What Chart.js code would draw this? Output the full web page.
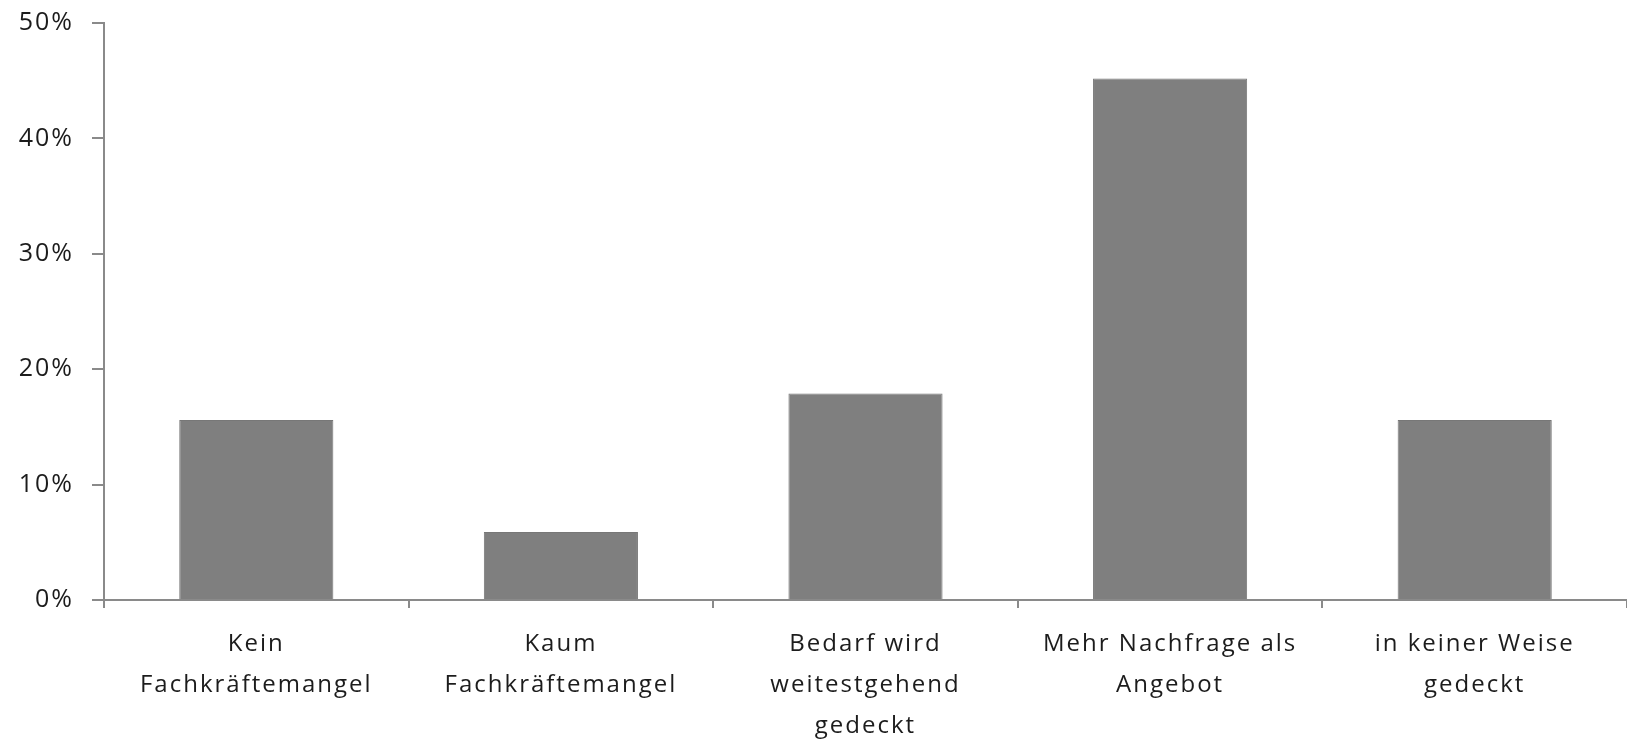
<!DOCTYPE html>
<html>
<head>
<meta charset="utf-8">
<script src="https://cdn.jsdelivr.net/npm/chart.js@4/dist/chart.umd.min.js"></script>
<style>
  html, body { margin: 0; padding: 0; background: #fff; }
  #wrap { width: 1627px; height: 739px; }
</style>
</head>
<body>
<div id="wrap"><canvas id="chart" width="1627" height="739"></canvas></div>
<script>
// Categories (multi-line labels)
const categories = [
  ["Kein", "Fachkräftemangel"],
  ["Kaum", "Fachkräftemangel"],
  ["Bedarf wird", "weitestgehend", "gedeckt"],
  ["Mehr Nachfrage als", "Angebot"],
  ["in keiner Weise", "gedeckt"]
];
// Share of responses in percent
const shares = [15.6, 5.9, 17.9, 45.2, 15.6];
// Y axis ticks
const yTicks = [0, 10, 20, 30, 40, 50];

const axisColor = "#8a8a8a";
const textColor = "#1c1c1c";
const fontFamily = "'Open Sans', Lato, sans-serif";

// Slightly widened letter spacing for all axis text
const spacing = {
  id: "spacing",
  beforeUpdate(chart) { chart.ctx.letterSpacing = "2px"; },
  beforeDraw(chart) { chart.ctx.letterSpacing = "2px"; }
};

new Chart(document.getElementById("chart"), {
  type: "bar",
  plugins: [spacing],
  data: {
    labels: categories,
    datasets: [{
      data: shares,
      backgroundColor: "#7f7f7f",
      borderColor: "#777777",
      borderWidth: 1,
      barPercentage: 0.506,
      categoryPercentage: 1.0
    }]
  },
  options: {
    responsive: false,
    animation: false,
    layout: { padding: { top: 23, right: 0, bottom: 0, left: 0 } },
    plugins: {
      legend: { display: false },
      tooltip: { enabled: false }
    },
    scales: {
      x: {
        grid: {
          display: true,
          drawOnChartArea: false,
          offset: true,
          tickLength: 8,
          color: axisColor,
          lineWidth: 2
        },
        border: { display: true, color: axisColor, width: 2 },
        ticks: {
          color: textColor,
          font: { family: fontFamily, size: 24, weight: 500, lineHeight: 1.7 },
          padding: 16,
          maxRotation: 0,
          autoSkip: false
        },
        afterFit: (axis) => {
          axis.height = 139;
          axis.paddingLeft = 0;
          axis.paddingRight = 0;
        }
      },
      y: {
        min: 0,
        max: 50,
        afterBuildTicks: (axis) => {
          axis.ticks = yTicks.map(v => ({ value: v }));
        },
        grid: {
          display: true,
          drawOnChartArea: false,
          tickLength: 12,
          color: axisColor,
          lineWidth: 2
        },
        border: { display: true, color: axisColor, width: 2 },
        ticks: {
          color: textColor,
          font: { family: fontFamily, size: 25, weight: 500 },
          padding: 18,
          callback: (v) => v + "%"
        },
        afterFit: (axis) => {
          axis.width = 104;
          axis.paddingTop = 0;
          axis.paddingBottom = 0;
        }
      }
    }
  }
});
</script>
</body>
</html>
